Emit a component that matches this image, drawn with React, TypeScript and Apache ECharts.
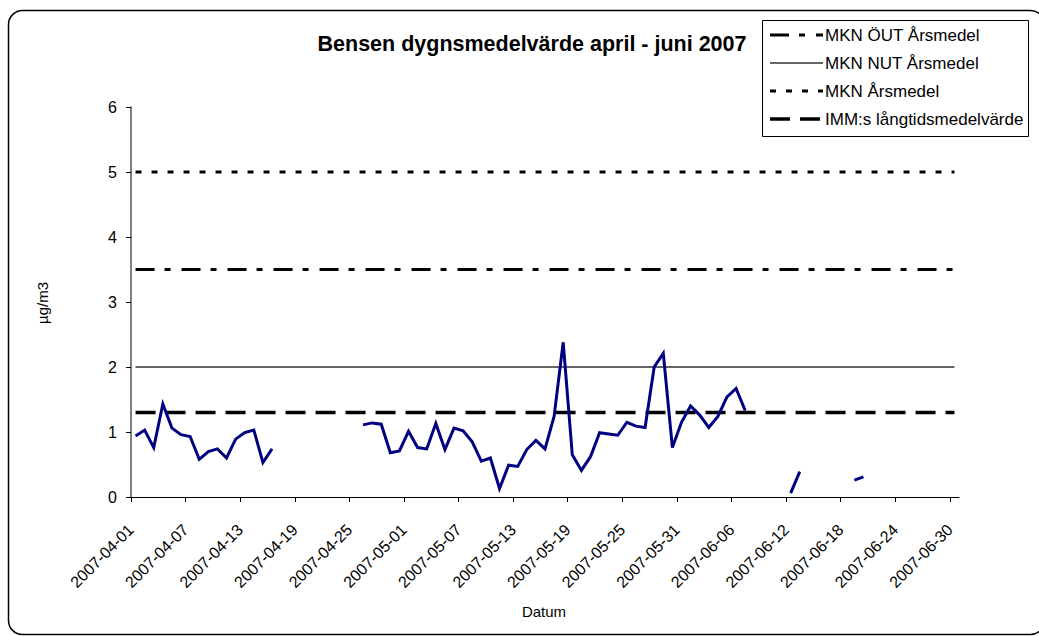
import React, { useEffect, useRef } from 'react';
import * as echarts from 'echarts';

const startDate = '2007-04-01';
const dayCount = 91;
const tickStep = 6;

// Daily benzene mean (µg/m3), one entry per day from 2007-04-01; null = no measurement
const benzene: (number | null)[] = [
  0.94, 1.03, 0.76, 1.43, 1.06, 0.96, 0.93, 0.58, 0.70, 0.74, 0.60, 0.89, 0.99, 1.03, 0.53, 0.74,
  null, null, null, null, null, null, null, null, null,
  1.11, 1.14, 1.12, 0.68, 0.71, 1.01, 0.76, 0.74, 1.13, 0.73, 1.06, 1.02, 0.85, 0.55, 0.60, 0.13,
  0.49, 0.47, 0.73, 0.87, 0.74, 1.24, 2.38, 0.65, 0.41, 0.62, 0.99, 0.97, 0.95, 1.15, 1.09, 1.07,
  2.00, 2.21, 0.76, 1.15, 1.40, 1.26, 1.07, 1.24, 1.54, 1.67, 1.33,
  null, null, null, null,
  0.06, 0.39,
  null, null, null, null, null,
  0.26, 0.31,
  null, null, null, null, null, null, null, null, null, null,
];

const limitNames = ['MKN ÖUT Årsmedel', 'MKN NUT Årsmedel', 'MKN Årsmedel', 'IMM:s långtidsmedelvärde'];
const limitValues = [3.5, 2, 5, 1.3];
const yMin = 0;
const yMax = 6;

const FONT = '"Liberation Sans", Arial, sans-serif';

const limitStyles: any[] = [
  { type: [19, 10, 6, 11], width: 3, color: '#000' },
  { type: 'solid', width: 1.5, color: '#333' },
  { type: [6, 10], width: 3, color: '#000' },
  { type: [20, 10], width: 3.5, color: '#000' },
];

function buildDates(): string[] {
  const [y, m, d] = startDate.split('-').map(Number);
  const base = Date.UTC(y, m - 1, d);
  const out: string[] = [];
  for (let i = 0; i < dayCount; i++) {
    const dt = new Date(base + i * 86400000);
    const mm = String(dt.getUTCMonth() + 1).padStart(2, '0');
    const dd = String(dt.getUTCDate()).padStart(2, '0');
    out.push(`${dt.getUTCFullYear()}-${mm}-${dd}`);
  }
  return out;
}

export default function App() {
  const ref = useRef<HTMLDivElement>(null);

  useEffect(() => {
    if (!ref.current) return;
    const chart = echarts.init(ref.current, undefined, { renderer: 'svg' });
    const dates = buildDates();
    const tickVals: number[] = [];
    for (let i = 0; i < dayCount; i += tickStep) tickVals.push(i);

    const series: any[] = limitNames.map((name, i) => ({
      name,
      type: 'line',
      data: [
        [0.5, limitValues[i]],
        [dayCount - 0.5, limitValues[i]],
      ],
      symbol: 'none',
      silent: true,
      lineStyle: { ...limitStyles[i], cap: 'butt' },
      z: 2,
    }));
    series.push({
      name: 'Bensen',
      type: 'line',
      data: benzene.map((v, i) => (v == null ? [i + 0.5, '-'] : [i + 0.5, v])),
      symbol: 'none',
      connectNulls: false,
      lineStyle: { color: '#000080', width: 3, join: 'miter' },
      z: 3,
    });

    const legendRows = [35, 63, 91, 119];
    const legendGraphics: any[] = [
      {
        type: 'rect',
        shape: { x: 762.5, y: 20.5, width: 266, height: 116 },
        style: { fill: '#fff', stroke: '#000', lineWidth: 1 },
        z: 100,
      },
    ];
    limitNames.forEach((name, i) => {
      const s = limitStyles[i];
      legendGraphics.push({
        type: 'line',
        shape: { x1: 770, y1: legendRows[i], x2: 823, y2: legendRows[i] },
        style: {
          stroke: s.color,
          lineWidth: s.width,
          lineDash: Array.isArray(s.type) ? s.type : null,
          lineCap: 'butt',
        },
        z: 101,
      });
      legendGraphics.push({
        type: 'text',
        x: 825,
        y: legendRows[i],
        style: {
          text: name,
          fontSize: 17,
          fontFamily: FONT,
          fill: '#000',
          verticalAlign: 'middle',
          align: 'left',
        },
        z: 101,
      });
    });

    chart.setOption({
      animation: false,
      backgroundColor: '#fff',
      grid: { left: 131, top: 107, width: 828, height: 390, containLabel: false },
      xAxis: {
        type: 'value',
        min: 0,
        max: dayCount,
        axisLine: { show: true, lineStyle: { color: '#000', width: 1 } },
        axisTick: { show: true, length: 5, inside: false, customValues: tickVals, lineStyle: { color: '#000' } },
        axisLabel: {
          customValues: tickVals,
          formatter: (v: number) => dates[Math.round(v)] ?? '',
          rotate: 45,
          margin: 30,
          fontSize: 16,
          fontFamily: FONT,
          color: '#000',
        },
        splitLine: { show: false },
      },
      yAxis: {
        type: 'value',
        min: yMin,
        max: yMax,
        interval: 1,
        axisLine: { show: true, lineStyle: { color: '#555', width: 1.5 } },
        axisTick: { show: true, length: 5, inside: false, lineStyle: { color: '#000' } },
        axisLabel: { fontSize: 16, fontFamily: FONT, color: '#000', margin: 14 },
        splitLine: { show: false },
      },
      series,
      graphic: [
        {
          type: 'rect',
          shape: { x: 8.5, y: 10.5, width: 1036, height: 624, r: 14 },
          style: { fill: 'none', stroke: '#000', lineWidth: 1.5 },
          z: 50,
          silent: true,
        },
        {
          type: 'text',
          x: 532,
          y: 44,
          style: {
            text: 'Bensen dygnsmedelvärde april - juni 2007',
            fontSize: 21.5,
            fontWeight: 'bold',
            fontFamily: FONT,
            fill: '#000',
            align: 'center',
            verticalAlign: 'middle',
          },
          z: 60,
        },
        {
          type: 'text',
          x: 42,
          y: 303,
          rotation: Math.PI / 2,
          style: {
            text: 'µg/m3',
            fontSize: 15,
            fontFamily: FONT,
            fill: '#000',
            align: 'center',
            verticalAlign: 'middle',
          },
          z: 60,
        },
        {
          type: 'text',
          x: 544,
          y: 611,
          style: {
            text: 'Datum',
            fontSize: 15,
            fontFamily: FONT,
            fill: '#000',
            align: 'center',
            verticalAlign: 'middle',
          },
          z: 60,
        },
        ...legendGraphics,
      ],
    });

    return () => chart.dispose();
  }, []);

  return (
    <div
      ref={ref}
      style={{ position: 'absolute', left: 0, top: 0, width: 1039, height: 636 }}
    />
  );
}
